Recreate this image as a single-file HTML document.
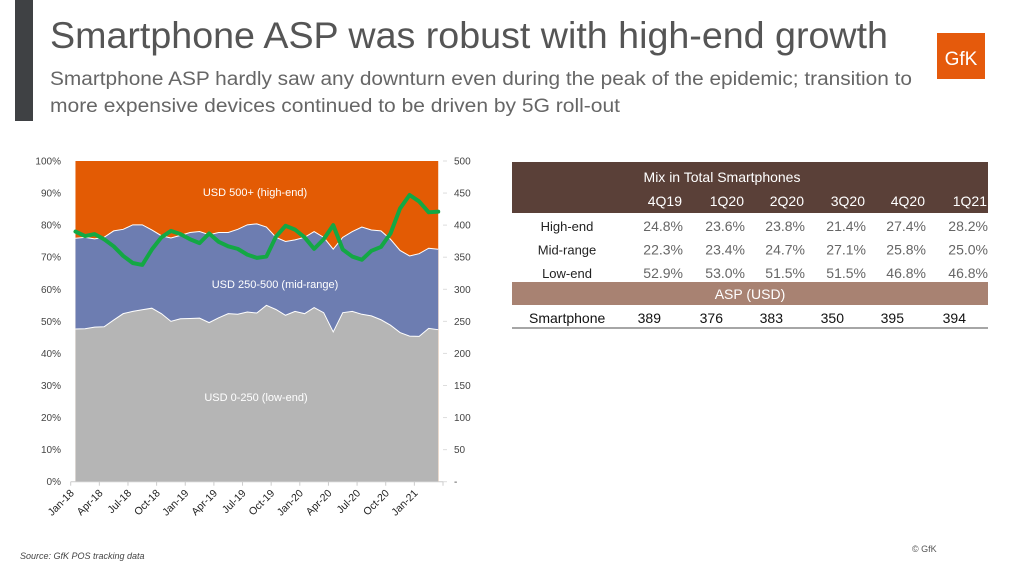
<!DOCTYPE html>
<html><head><meta charset="utf-8"><style>
body{margin:0;background:#fff;width:1024px;height:576px;overflow:hidden;font-family:"Liberation Sans",sans-serif}
svg{display:block}
</style></head><body>
<svg id="s" width="1024" height="576" viewBox="0 0 1024 576" xmlns="http://www.w3.org/2000/svg" font-family="Liberation Sans, sans-serif">
<rect x="15" y="0" width="18" height="121" fill="#3f4144"/>
<text x="50" y="48" font-size="37" fill="#555" textLength="838" lengthAdjust="spacingAndGlyphs">Smartphone ASP was robust with high-end growth</text>
<text x="50" y="85" font-size="19" fill="#666" textLength="862" lengthAdjust="spacingAndGlyphs">Smartphone ASP hardly saw any downturn even during the peak of the epidemic; transition to</text>
<text x="50" y="112" font-size="19" fill="#666" textLength="570" lengthAdjust="spacingAndGlyphs">more expensive devices continued to be driven by 5G roll-out</text>
<g>
<rect x="937" y="33" width="48" height="46" fill="#e55a0c"/>
<text x="961" y="65" font-size="19" fill="#fff" text-anchor="middle">GfK</text>
</g>
<g id="chart"></g>
<g>
<rect x="512" y="162" width="476" height="51" fill="#5a4038"/>
<text x="722" y="182" font-size="14" fill="#fff" text-anchor="middle">Mix in Total Smartphones</text>
<g id="tbl"></g>
<rect x="512" y="282" width="476" height="23" fill="#a88272"/>
<text x="750" y="299" font-size="14" fill="#fff" text-anchor="middle">ASP (USD)</text>
<line x1="512" y1="328" x2="988" y2="328" stroke="#888" stroke-width="1.5"/>
</g>
<text x="20" y="559" font-size="9" font-style="italic" fill="#444">Source: GfK POS tracking data</text>
<text x="912" y="552" font-size="9" fill="#555">© GfK</text>
</svg>
<script>
const months=["Jan-18","Feb-18","Mar-18","Apr-18","May-18","Jun-18","Jul-18","Aug-18","Sep-18","Oct-18","Nov-18","Dec-18","Jan-19","Feb-19","Mar-19","Apr-19","May-19","Jun-19","Jul-19","Aug-19","Sep-19","Oct-19","Nov-19","Dec-19","Jan-20","Feb-20","Mar-20","Apr-20","May-20","Jun-20","Jul-20","Aug-20","Sep-20","Oct-20","Nov-20","Dec-20","Jan-21","Feb-21","Mar-21"];
const lowEnd=[47.6,47.7,48.2,48.3,50.4,52.4,53.1,53.6,54.1,52.4,50.0,50.8,50.9,51.0,49.6,51.1,52.4,52.2,52.9,52.6,55.0,53.7,51.9,53.1,52.4,54.3,52.7,46.7,52.7,53.1,52.2,51.7,50.5,48.8,46.5,45.4,45.3,47.8,47.4];
const lowPlusMid=[75.9,76.2,75.7,76.2,78.2,78.7,80.1,80.1,78.5,76.7,76.0,76.8,77.7,78.0,77.0,77.7,77.7,78.7,80.1,80.4,79.4,76.2,74.9,75.4,76.2,78.0,76.2,72.5,76.2,78.0,79.4,78.5,78.2,75.6,72.1,70.4,71.1,72.8,72.5];
const asp=[390,383,386,378,367,352,341,338,362,381,391,386,378,372,387,374,367,363,354,349,351,382,399,393,381,363,378,400,362,351,346,360,366,387,426,447,437,420,421];
const leftTicks=["0%","10%","20%","30%","40%","50%","60%","70%","80%","90%","100%"];
const rightTicks=["-","50","100","150","200","250","300","350","400","450","500"];
const quarters=["4Q19","1Q20","2Q20","3Q20","4Q20","1Q21"];
const rowLabels=["High-end","Mid-range","Low-end"];
const highMix=["24.8%","23.6%","23.8%","21.4%","27.4%","28.2%"];
const midMix=["22.3%","23.4%","24.7%","27.1%","25.8%","25.0%"];
const lowMix=["52.9%","53.0%","51.5%","51.5%","46.8%","46.8%"];
const aspQ=["389","376","383","350","395","394"];

const NS="http://www.w3.org/2000/svg";
const g=document.getElementById('chart');
function mk(tag,attrs,parent,txt){const e=document.createElementNS(NS,tag);for(const k in attrs)e.setAttribute(k,attrs[k]);if(txt!==undefined)e.textContent=txt;(parent||g).appendChild(e);return e;}
const X0=70.7,X1=443,Y0=481.7,Y1=161;
const n=months.length,step=(X1-X0)/n;
const x=i=>X0+step*(i+0.5);
const yp=v=>Y0-(Y0-Y1)*v/100;
const ya=v=>Y0-(Y0-Y1)*v/500;

let topPath="",lowPath="";
months.forEach((m,i)=>{topPath+=`L${x(i)},${yp(lowPlusMid[i])}`;lowPath+=`L${x(i)},${yp(lowEnd[i])}`;});
let e=mk('rect',{x:x(0),y:Y1,width:x(n-1)-x(0),height:Y0-Y1,fill:'#e35b04'});


let midPath="M"+topPath.slice(1);
for(let i=n-1;i>=0;i--)midPath+=`L${x(i)},${yp(lowEnd[i])}`;
e=mk('path',{d:midPath+"Z",fill:'#6d7db1'});


e=mk('path',{d:"M"+topPath.slice(1),fill:'none',stroke:'#fff','stroke-width':1});


e=mk('path',{d:`M${x(0)},${Y0}`+lowPath+`L${x(n-1)},${Y0}Z`,fill:'#b5b5b5'});


e=mk('path',{d:"M"+lowPath.slice(1),fill:'none',stroke:'#fff','stroke-width':1});



[["USD 500+ (high-end)",255,196],["USD 250-500 (mid-range)",275,288],["USD 0-250 (low-end)",256,401]].forEach(a=>{
 const t=mk('text',{x:a[1],y:a[2],'font-size':11,fill:'#fff','text-anchor':'middle'},g,a[0]);
 
 
});

let lp="";asp.forEach((v,i)=>{lp+=(i?"L":"M")+x(i)+","+ya(v);});
e=mk('path',{d:lp,fill:'none',stroke:'#13a844','stroke-width':4,'stroke-linejoin':'round','stroke-linecap':'round'});



leftTicks.forEach((t,i)=>{
 const yy=yp(i*10);
 const a=mk('text',{x:61,y:yy+3.5,'font-size':10,fill:'#444','text-anchor':'end'},g,t);
 
 
});
rightTicks.forEach((t,i)=>{
 const yy=ya(i*50);
 const a=mk('text',{x:454,y:yy+3.5,'font-size':10,fill:'#444'},g,t);
 
 
 mk('line',{x1:443,y1:yy,x2:447,y2:yy,stroke:'#ddd'});
});
e=mk('line',{x1:X0,y1:Y0,x2:X1,y2:Y0,stroke:'#ccc'});


for(let i=0;i<=n;i+=3){
 const tx=X0+step*i;
 mk('line',{x1:tx,y1:Y0,x2:tx,y2:Y0+4,stroke:'#ccc'});
 if(i<n){
  const a=mk('text',{x:tx+4,y:Y0+12,'font-size':10.5,fill:'#222','text-anchor':'end',transform:`rotate(-45 ${tx+4} ${Y0+12})`},g,months[i]);
  
  
 }
}

const tb=document.getElementById('tbl');
const ends=[683,745,805,866,926,988];
quarters.forEach((q,i)=>{
 const a=mk('text',{x:ends[i]-1,y:206,'font-size':14,fill:'#fff','text-anchor':'end'},tb,q);
 
 
});
[highMix,midMix,lowMix].forEach((arr,r)=>{
 const yy=231+r*23.5;
 const l=mk('text',{x:567,y:yy,'font-size':13,fill:'#222','text-anchor':'middle'},tb,rowLabels[r]);
 
 
 arr.forEach((v,i)=>{
  const a=mk('text',{x:ends[i],y:yy,'font-size':14,fill:'#666','text-anchor':'end'},tb,v);
  
  
 });
});
const sl=mk('text',{x:529,y:323,'font-size':14,fill:'#111'},tb,"Smartphone");


aspQ.forEach((v,i)=>{
 const a=mk('text',{x:ends[i]-22,y:323,'font-size':14,fill:'#111','text-anchor':'end'},tb,v);
 
 
});
</script>
</body></html>
